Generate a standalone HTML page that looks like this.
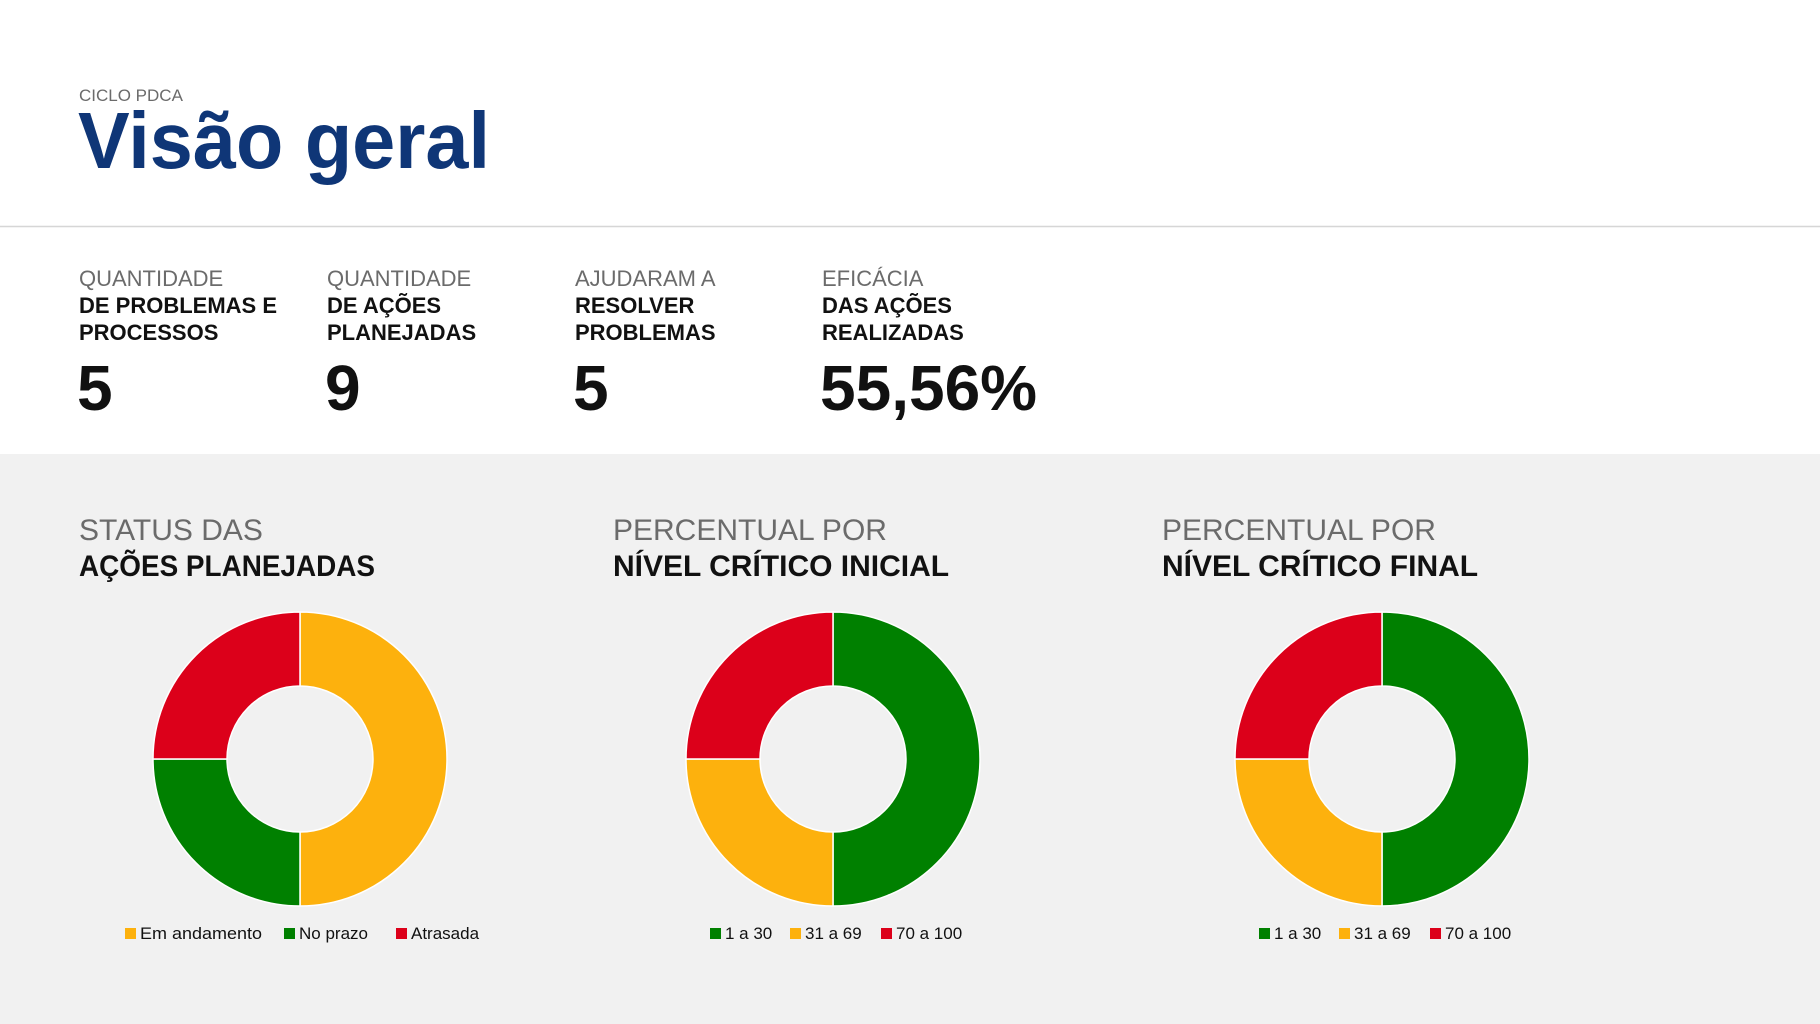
<!DOCTYPE html>
<html><head><meta charset="utf-8"><style>
html,body{margin:0;padding:0;width:1820px;height:1024px;overflow:hidden;background:#fff;font-family:"Liberation Sans",sans-serif}
</style></head><body>
<svg width="1820" height="1024" xmlns="http://www.w3.org/2000/svg" font-family="Liberation Sans, sans-serif">
<rect x="0" y="0" width="1820" height="1024" fill="#fff"/>
<rect x="0" y="454" width="1820" height="570" fill="#f1f1f1"/>
<line x1="0" y1="226.5" x2="1820" y2="226.5" stroke="#d6d6d6" stroke-width="1.5"/>
<text x="79" y="101" font-size="17" fill="#6b6b6b">CICLO PDCA</text>
<text x="78" y="168" font-size="80" font-weight="bold" fill="#0f3677" textLength="412" lengthAdjust="spacingAndGlyphs">Visão geral</text>

<g font-size="22" fill="#6b6b6b">
<text x="79" y="286">QUANTIDADE</text>
<text x="327" y="286">QUANTIDADE</text>
<text x="575" y="286">AJUDARAM A</text>
<text x="822" y="286">EFICÁCIA</text>
</g>
<g font-size="22" font-weight="bold" fill="#111">
<text x="79" y="313">DE PROBLEMAS E</text><text x="79" y="340">PROCESSOS</text>
<text x="327" y="313">DE AÇÕES</text><text x="327" y="340">PLANEJADAS</text>
<text x="575" y="313">RESOLVER</text><text x="575" y="340">PROBLEMAS</text>
<text x="822" y="313">DAS AÇÕES</text><text x="822" y="340">REALIZADAS</text>
</g>
<g font-size="64" font-weight="bold" fill="#111">
<text x="77" y="410">5</text><text x="325" y="410">9</text><text x="573" y="410">5</text><text x="820" y="410">55,56%</text>
</g>

<g font-size="30" fill="#6b6b6b">
<text x="79" y="540">STATUS DAS</text>
<text x="613" y="540">PERCENTUAL POR</text>
<text x="1162" y="540">PERCENTUAL POR</text>
</g>
<g font-size="30" font-weight="bold" fill="#111">
<text x="79" y="576" textLength="296" lengthAdjust="spacingAndGlyphs">AÇÕES PLANEJADAS</text>
<text x="613" y="576">NÍVEL CRÍTICO INICIAL</text>
<text x="1162" y="576">NÍVEL CRÍTICO FINAL</text>
</g>

<g stroke="#fff" stroke-width="1.5">
<g transform="translate(300,759)">
<path d="M0,-147 A147,147 0 0 1 0,147 L0,73 A73,73 0 0 0 0,-73Z" fill="#fdb10d"/>
<path d="M0,147 A147,147 0 0 1 -147,0 L-73,0 A73,73 0 0 0 0,73Z" fill="#008000"/>
<path d="M-147,0 A147,147 0 0 1 0,-147 L0,-73 A73,73 0 0 0 -73,0Z" fill="#dc001a"/>
</g>
<g transform="translate(833,759)">
<path d="M0,-147 A147,147 0 0 1 0,147 L0,73 A73,73 0 0 0 0,-73Z" fill="#008000"/>
<path d="M0,147 A147,147 0 0 1 -147,0 L-73,0 A73,73 0 0 0 0,73Z" fill="#fdb10d"/>
<path d="M-147,0 A147,147 0 0 1 0,-147 L0,-73 A73,73 0 0 0 -73,0Z" fill="#dc001a"/>
</g>
<g transform="translate(1382,759)">
<path d="M0,-147 A147,147 0 0 1 0,147 L0,73 A73,73 0 0 0 0,-73Z" fill="#008000"/>
<path d="M0,147 A147,147 0 0 1 -147,0 L-73,0 A73,73 0 0 0 0,73Z" fill="#fdb10d"/>
<path d="M-147,0 A147,147 0 0 1 0,-147 L0,-73 A73,73 0 0 0 -73,0Z" fill="#dc001a"/>
</g>
</g>

<g font-size="17" fill="#111">
<rect x="125" y="928" width="11" height="11" fill="#fdb10d"/><text x="140" y="939" textLength="122" lengthAdjust="spacingAndGlyphs">Em andamento</text>
<rect x="284" y="928" width="11" height="11" fill="#008000"/><text x="299" y="939">No prazo</text>
<rect x="396" y="928" width="11" height="11" fill="#dc001a"/><text x="411" y="939">Atrasada</text>

<rect x="710" y="928" width="11" height="11" fill="#008000"/><text x="725" y="939">1 a 30</text>
<rect x="790" y="928" width="11" height="11" fill="#fdb10d"/><text x="805" y="939">31 a 69</text>
<rect x="881" y="928" width="11" height="11" fill="#dc001a"/><text x="896" y="939">70 a 100</text>

<rect x="1259" y="928" width="11" height="11" fill="#008000"/><text x="1274" y="939">1 a 30</text>
<rect x="1339" y="928" width="11" height="11" fill="#fdb10d"/><text x="1354" y="939">31 a 69</text>
<rect x="1430" y="928" width="11" height="11" fill="#dc001a"/><text x="1445" y="939">70 a 100</text>
</g>
</svg>
</body></html>
